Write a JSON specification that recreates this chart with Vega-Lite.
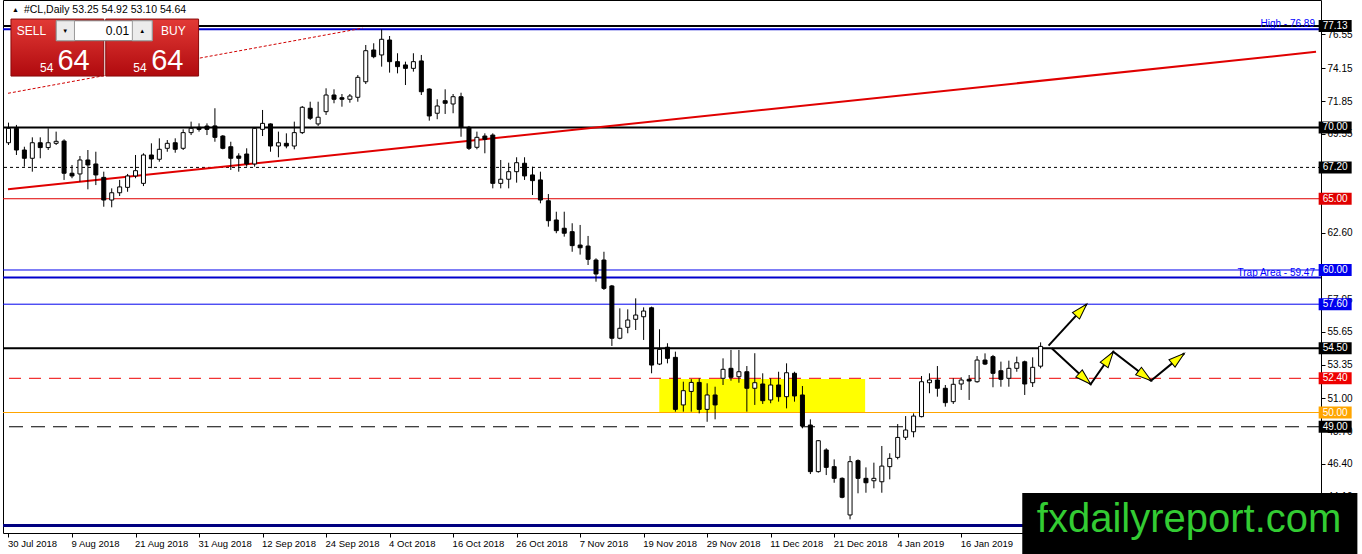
{
  "$schema": "https://vega.github.io/schema/vega-lite/v6.json",
  "width": 1318,
  "height": 533,
  "autosize": {"type": "none"},
  "padding": {"left": 3, "top": 0, "right": 41, "bottom": 21},
  "background": "#ffffff",
  "config": {
    "view": {"stroke": "#000000", "strokeWidth": 1},
    "font": "Liberation Sans",
    "axis": {"grid": false, "domain": false, "tickColor": "#000000", "tickSize": 4, "labelColor": "#000000", "labelFont": "Liberation Sans", "labelFontSize": 10, "zindex": 0}
  },
  "datasets": {
    "zone": [{"i0": 81.97, "i1": 107.9, "p0": 50.0, "p1": 52.35}],
    "levels": [
      {"level": 77.13, "kind": "top"},
      {"level": 76.89, "kind": "high", "note": "High - 76.89"},
      {"level": 70.0, "kind": "major"},
      {"level": 67.2, "kind": "pivot"},
      {"level": 65.0, "kind": "red"},
      {"level": 60.0, "kind": "blueThin"},
      {"level": 59.47, "kind": "trap", "note": "Trap Area - 59.47"},
      {"level": 57.6, "kind": "blueThin"},
      {"level": 54.5, "kind": "major"},
      {"level": 52.4, "kind": "redDash"},
      {"level": 50.0, "kind": "orange"},
      {"level": 49.0, "kind": "blackDash"},
      {"level": 42.07, "kind": "low"}
    ],
    "trend": [
      {"line": "trend", "i": -0.0625, "p": 65.66},
      {"line": "trend", "i": 164.69, "p": 75.31},
      {"line": "dotted", "i": -0.0625, "p": 72.4},
      {"line": "dotted", "i": 44.6, "p": 76.97}
    ],
    "candles": [
      {"i": 0, "o": 68.93, "h": 70.34, "l": 68.77, "c": 69.94},
      {"i": 1, "o": 69.94, "h": 70.18, "l": 68.07, "c": 68.42},
      {"i": 2, "o": 68.42, "h": 68.65, "l": 67.25, "c": 67.84},
      {"i": 3, "o": 67.84, "h": 69.31, "l": 66.9, "c": 68.93},
      {"i": 4, "o": 68.93, "h": 69.31, "l": 67.84, "c": 68.59},
      {"i": 5, "o": 68.59, "h": 69.94, "l": 68.42, "c": 68.93},
      {"i": 6, "o": 68.89, "h": 69.71, "l": 68.77, "c": 69.03},
      {"i": 7, "o": 69.05, "h": 69.17, "l": 66.32, "c": 66.79},
      {"i": 8, "o": 66.79, "h": 67.37, "l": 66.44, "c": 66.6},
      {"i": 9, "o": 66.74, "h": 68.0, "l": 66.2, "c": 67.72},
      {"i": 10, "o": 67.72, "h": 68.42, "l": 65.66, "c": 67.37},
      {"i": 11, "o": 67.44, "h": 68.3, "l": 65.96, "c": 66.67},
      {"i": 12, "o": 66.5, "h": 66.9, "l": 64.44, "c": 64.91},
      {"i": 13, "o": 64.91, "h": 65.73, "l": 64.4, "c": 65.42},
      {"i": 14, "o": 65.42, "h": 66.32, "l": 65.19, "c": 65.83},
      {"i": 15, "o": 65.8, "h": 66.74, "l": 65.49, "c": 66.6},
      {"i": 16, "o": 66.6, "h": 68.07, "l": 66.44, "c": 66.97},
      {"i": 17, "o": 66.08, "h": 68.19, "l": 65.89, "c": 68.07},
      {"i": 18, "o": 68.07, "h": 68.89, "l": 67.14, "c": 67.79},
      {"i": 19, "o": 67.77, "h": 69.24, "l": 67.6, "c": 68.47},
      {"i": 20, "o": 68.54, "h": 69.12, "l": 68.3, "c": 68.89},
      {"i": 21, "o": 68.93, "h": 69.24, "l": 68.23, "c": 68.47},
      {"i": 22, "o": 68.54, "h": 69.87, "l": 68.42, "c": 69.64},
      {"i": 23, "o": 69.64, "h": 70.41, "l": 69.47, "c": 69.94},
      {"i": 24, "o": 70.01, "h": 70.29, "l": 69.71, "c": 69.87},
      {"i": 25, "o": 70.1, "h": 70.29, "l": 69.47, "c": 69.87},
      {"i": 26, "o": 70.11, "h": 71.35, "l": 69.0, "c": 69.31},
      {"i": 27, "o": 69.4, "h": 69.47, "l": 68.47, "c": 68.54},
      {"i": 28, "o": 68.65, "h": 69.0, "l": 67.02, "c": 67.84},
      {"i": 29, "o": 68.0, "h": 68.19, "l": 66.9, "c": 67.84},
      {"i": 30, "o": 68.14, "h": 68.54, "l": 67.25, "c": 67.44},
      {"i": 31, "o": 67.44, "h": 70.01, "l": 67.25, "c": 69.94},
      {"i": 32, "o": 69.87, "h": 71.23, "l": 69.4, "c": 70.29},
      {"i": 33, "o": 70.25, "h": 70.29, "l": 68.3, "c": 68.7},
      {"i": 34, "o": 68.7, "h": 69.71, "l": 67.91, "c": 68.93},
      {"i": 35, "o": 68.89, "h": 69.59, "l": 68.54, "c": 68.7},
      {"i": 36, "o": 68.7, "h": 70.41, "l": 68.47, "c": 69.64},
      {"i": 37, "o": 69.64, "h": 71.51, "l": 69.54, "c": 71.42},
      {"i": 38, "o": 71.35, "h": 71.81, "l": 70.53, "c": 70.65},
      {"i": 39, "o": 70.25, "h": 71.81, "l": 70.11, "c": 70.72},
      {"i": 40, "o": 71.11, "h": 72.75, "l": 70.88, "c": 72.28},
      {"i": 41, "o": 72.28, "h": 72.68, "l": 71.7, "c": 71.98},
      {"i": 42, "o": 72.09, "h": 72.35, "l": 71.46, "c": 71.98},
      {"i": 43, "o": 71.98, "h": 72.35, "l": 71.74, "c": 72.21},
      {"i": 44, "o": 72.12, "h": 73.68, "l": 71.81, "c": 73.52},
      {"i": 45, "o": 73.21, "h": 75.79, "l": 73.05, "c": 75.39},
      {"i": 46, "o": 75.44, "h": 75.91, "l": 74.86, "c": 74.97},
      {"i": 47, "o": 75.09, "h": 76.89, "l": 74.27, "c": 76.19},
      {"i": 48, "o": 76.14, "h": 76.42, "l": 73.85, "c": 74.62},
      {"i": 49, "o": 74.62, "h": 75.21, "l": 73.8, "c": 74.27},
      {"i": 50, "o": 74.39, "h": 74.62, "l": 72.98, "c": 74.15},
      {"i": 51, "o": 74.15, "h": 75.21, "l": 73.92, "c": 74.62},
      {"i": 52, "o": 74.67, "h": 75.09, "l": 72.28, "c": 72.51},
      {"i": 53, "o": 72.7, "h": 72.75, "l": 70.48, "c": 70.81},
      {"i": 54, "o": 71.0, "h": 71.98, "l": 70.58, "c": 71.51},
      {"i": 55, "o": 71.88, "h": 72.68, "l": 70.95, "c": 71.7},
      {"i": 56, "o": 71.65, "h": 72.35, "l": 71.0, "c": 72.16},
      {"i": 57, "o": 72.16, "h": 72.44, "l": 69.35, "c": 70.01},
      {"i": 58, "o": 70.01, "h": 70.11, "l": 68.42, "c": 68.54},
      {"i": 59, "o": 68.61, "h": 69.71, "l": 68.47, "c": 69.31},
      {"i": 60, "o": 69.4, "h": 69.59, "l": 68.19, "c": 69.17},
      {"i": 61, "o": 69.47, "h": 69.59, "l": 65.73, "c": 66.08},
      {"i": 62, "o": 66.08, "h": 67.72, "l": 65.73, "c": 66.37},
      {"i": 63, "o": 66.37, "h": 67.53, "l": 65.73, "c": 66.9},
      {"i": 64, "o": 66.9, "h": 67.91, "l": 66.13, "c": 67.53},
      {"i": 65, "o": 67.49, "h": 67.91, "l": 66.32, "c": 66.6},
      {"i": 66, "o": 66.67, "h": 67.25, "l": 65.26, "c": 66.27},
      {"i": 67, "o": 66.32, "h": 66.9, "l": 64.68, "c": 64.91},
      {"i": 68, "o": 64.86, "h": 65.33, "l": 63.04, "c": 63.46},
      {"i": 69, "o": 63.51, "h": 64.09, "l": 62.58, "c": 62.76},
      {"i": 70, "o": 62.93, "h": 64.09, "l": 62.34, "c": 62.58},
      {"i": 71, "o": 62.69, "h": 63.28, "l": 61.28, "c": 61.71},
      {"i": 72, "o": 61.75, "h": 63.16, "l": 61.08, "c": 61.56},
      {"i": 73, "o": 61.68, "h": 62.39, "l": 60.35, "c": 60.75},
      {"i": 74, "o": 60.7, "h": 60.82, "l": 59.18, "c": 59.72},
      {"i": 75, "o": 60.7, "h": 61.28, "l": 58.6, "c": 58.71},
      {"i": 76, "o": 58.88, "h": 58.95, "l": 54.67, "c": 55.21},
      {"i": 77, "o": 55.21, "h": 57.31, "l": 55.14, "c": 55.91},
      {"i": 78, "o": 55.98, "h": 57.24, "l": 55.56, "c": 56.49},
      {"i": 79, "o": 56.54, "h": 58.01, "l": 55.79, "c": 56.84},
      {"i": 80, "o": 56.72, "h": 57.38, "l": 55.09, "c": 57.12},
      {"i": 81, "o": 57.35, "h": 57.43, "l": 52.75, "c": 53.33},
      {"i": 82, "o": 53.4, "h": 55.84, "l": 53.33, "c": 54.43},
      {"i": 83, "o": 54.58, "h": 54.86, "l": 53.45, "c": 53.8},
      {"i": 84, "o": 53.87, "h": 54.27, "l": 50.06, "c": 50.22},
      {"i": 85, "o": 50.53, "h": 52.16, "l": 50.06, "c": 51.53},
      {"i": 86, "o": 51.48, "h": 52.34, "l": 50.06, "c": 52.11},
      {"i": 87, "o": 52.11, "h": 52.4, "l": 49.94, "c": 50.22},
      {"i": 88, "o": 50.22, "h": 52.05, "l": 49.35, "c": 51.23},
      {"i": 89, "o": 51.23, "h": 51.81, "l": 49.52, "c": 50.53},
      {"i": 90, "o": 52.4, "h": 53.8, "l": 51.93, "c": 53.03},
      {"i": 91, "o": 53.1, "h": 54.39, "l": 52.23, "c": 52.47},
      {"i": 92, "o": 52.51, "h": 54.39, "l": 52.09, "c": 52.86},
      {"i": 93, "o": 52.86, "h": 53.26, "l": 50.06, "c": 51.7},
      {"i": 94, "o": 51.7, "h": 54.16, "l": 50.53, "c": 52.09},
      {"i": 95, "o": 52.0, "h": 52.75, "l": 50.6, "c": 50.83},
      {"i": 96, "o": 50.88, "h": 52.4, "l": 50.65, "c": 51.93},
      {"i": 97, "o": 51.93, "h": 52.86, "l": 50.76, "c": 51.11},
      {"i": 98, "o": 51.11, "h": 53.45, "l": 50.29, "c": 52.79},
      {"i": 99, "o": 52.75, "h": 52.86, "l": 50.76, "c": 51.16},
      {"i": 100, "o": 51.23, "h": 51.86, "l": 48.89, "c": 49.05},
      {"i": 101, "o": 49.12, "h": 49.52, "l": 45.68, "c": 45.85},
      {"i": 102, "o": 45.85, "h": 48.07, "l": 45.78, "c": 48.02},
      {"i": 103, "o": 47.37, "h": 47.49, "l": 45.61, "c": 46.15},
      {"i": 104, "o": 46.2, "h": 46.71, "l": 45.07, "c": 45.38},
      {"i": 105, "o": 45.38, "h": 45.45, "l": 43.98, "c": 44.05},
      {"i": 106, "o": 42.81, "h": 46.95, "l": 42.5, "c": 46.55},
      {"i": 107, "o": 46.62, "h": 46.71, "l": 44.33, "c": 45.38},
      {"i": 108, "o": 45.38, "h": 46.15, "l": 44.37, "c": 45.07},
      {"i": 109, "o": 45.21, "h": 46.48, "l": 44.68, "c": 45.38},
      {"i": 110, "o": 45.14, "h": 47.65, "l": 44.37, "c": 46.24},
      {"i": 111, "o": 46.2, "h": 47.14, "l": 45.31, "c": 46.78},
      {"i": 112, "o": 46.85, "h": 49.19, "l": 46.71, "c": 48.25},
      {"i": 113, "o": 48.26, "h": 49.75, "l": 48.07, "c": 48.77},
      {"i": 114, "o": 48.65, "h": 49.94, "l": 48.26, "c": 49.75},
      {"i": 115, "o": 49.71, "h": 52.56, "l": 49.66, "c": 52.16},
      {"i": 116, "o": 52.09, "h": 52.75, "l": 51.35, "c": 52.28},
      {"i": 117, "o": 52.28, "h": 53.26, "l": 51.11, "c": 51.7},
      {"i": 118, "o": 51.7, "h": 51.93, "l": 50.41, "c": 50.69},
      {"i": 119, "o": 50.76, "h": 52.4, "l": 50.6, "c": 51.98},
      {"i": 120, "o": 52.0, "h": 52.47, "l": 51.58, "c": 52.28},
      {"i": 121, "o": 52.33, "h": 52.63, "l": 50.88, "c": 52.21},
      {"i": 122, "o": 52.16, "h": 53.96, "l": 52.09, "c": 53.68},
      {"i": 123, "o": 53.68, "h": 54.15, "l": 53.33, "c": 53.4},
      {"i": 124, "o": 53.92, "h": 54.04, "l": 51.77, "c": 52.75},
      {"i": 125, "o": 52.93, "h": 53.57, "l": 51.81, "c": 52.33},
      {"i": 126, "o": 52.4, "h": 53.64, "l": 51.81, "c": 53.1},
      {"i": 127, "o": 53.1, "h": 53.92, "l": 52.86, "c": 53.49},
      {"i": 128, "o": 53.56, "h": 53.64, "l": 51.23, "c": 52.0},
      {"i": 129, "o": 52.09, "h": 53.87, "l": 51.79, "c": 53.17},
      {"i": 130, "o": 53.25, "h": 54.92, "l": 53.1, "c": 54.64}
    ],
    "arrows": [
      {"path": "up", "step": 0, "i": 131.0, "p": 54.69},
      {"path": "up", "step": 1, "i": 135.8, "p": 57.61},
      {"path": "zig", "step": 0, "i": 131.4, "p": 54.51},
      {"path": "zig", "step": 1, "i": 136.3, "p": 51.98},
      {"path": "zig", "step": 2, "i": 139.15, "p": 54.27},
      {"path": "zig", "step": 3, "i": 143.9, "p": 52.23},
      {"path": "zig", "step": 4, "i": 148.1, "p": 54.15}
    ],
    "heads": [
      {"i": 135.14, "p": 57.2, "angle": 42.6},
      {"i": 135.58, "p": 52.36, "angle": 132.7},
      {"i": 138.58, "p": 53.8, "angle": 34.8},
      {"i": 143.14, "p": 52.57, "angle": 127.1},
      {"i": 147.33, "p": 53.8, "angle": 50.6}
    ]
  },
  "layer": [
    {
      "data": {"name": "zone"},
      "mark": {"type": "rect", "color": "#ffff00"},
      "encoding": {
        "x": {
          "field": "i0", "type": "quantitative", "title": null,
          "scale": {"domain": [-0.0625, 164.6875], "nice": false, "zero": false},
          "axis": {
            "orient": "bottom", "title": null,
            "values": [0, 8, 16, 24, 32, 40, 48, 56, 64, 72, 80, 88, 96, 104, 112, 120],
            "labelExpr": "['30 Jul 2018','9 Aug 2018','21 Aug 2018','31 Aug 2018','12 Sep 2018','24 Sep 2018','4 Oct 2018','16 Oct 2018','26 Oct 2018','7 Nov 2018','19 Nov 2018','29 Nov 2018','11 Dec 2018','21 Dec 2018','4 Jan 2019','16 Jan 2019'][datum.value / 8]",
            "labelAlign": "left", "labelPadding": 1, "labelFontSize": 9.5, "labelOffset": -1, "labelFlush": false, "labelOverlap": false
          }
        },
        "x2": {"field": "i1"},
        "y": {
          "field": "p0", "type": "quantitative", "title": null,
          "scale": {"domain": [41.544, 78.947], "nice": false, "zero": false},
          "axis": {
            "orient": "right", "title": null,
            "values": [44.1, 46.4, 48.7, 51.0, 53.35, 55.65, 57.95, 62.6, 69.55, 71.85, 74.15, 76.55],
            "format": ".2f", "labelPadding": 2, "labelFlush": false, "labelOverlap": false, "labelBaseline": "middle"
          }
        },
        "y2": {"field": "p1"}
      }
    },
    {
      "data": {"name": "levels"},
      "transform": [{"filter": "indexof(['top','high','major','trap'], datum.kind) >= 0"}],
      "mark": {"type": "rule", "strokeWidth": 2},
      "encoding": {
        "y": {"field": "level", "type": "quantitative", "title": null},
        "color": {
          "field": "kind", "type": "nominal", "legend": null,
          "scale": {
            "domain": ["top", "high", "major", "pivot", "red", "blueThin", "trap", "redDash", "orange", "blackDash", "low"],
            "range": ["#000000", "#0000cc", "#000000", "#000000", "#e00000", "#0000ee", "#0000cc", "#ee0000", "#ffa500", "#000000", "#000080"]
          }
        },
        "strokeDash": {
          "field": "kind", "type": "nominal", "legend": null,
          "scale": {
            "domain": ["top", "high", "major", "pivot", "red", "blueThin", "trap", "redDash", "orange", "blackDash", "low"],
            "range": [[1, 0], [1, 0], [1, 0], [3, 3], [1, 0], [1, 0], [1, 0], [12, 8], [1, 0], [14, 8], [1, 0]]
          }
        }
      }
    },
    {
      "data": {"name": "levels"},
      "transform": [{"filter": "indexof(['pivot','red','blueThin','redDash','orange','blackDash'], datum.kind) >= 0"}],
      "mark": {"type": "rule", "strokeWidth": 1},
      "encoding": {
        "y": {"field": "level", "type": "quantitative", "title": null},
        "color": {"field": "kind", "type": "nominal", "legend": null},
        "strokeDash": {"field": "kind", "type": "nominal", "legend": null}
      }
    },
    {
      "data": {"name": "levels"},
      "transform": [{"filter": "datum.kind == 'low'"}],
      "mark": {"type": "rule", "strokeWidth": 3},
      "encoding": {
        "y": {"field": "level", "type": "quantitative", "title": null},
        "color": {"field": "kind", "type": "nominal", "legend": null}
      }
    },
    {
      "data": {"name": "trend"},
      "transform": [{"filter": "datum.line == 'trend'"}],
      "mark": {"type": "line", "color": "#e00000", "strokeWidth": 2, "clip": true},
      "encoding": {
        "x": {"field": "i", "type": "quantitative", "title": null},
        "y": {"field": "p", "type": "quantitative", "title": null}
      }
    },
    {
      "data": {"name": "trend"},
      "transform": [{"filter": "datum.line == 'dotted'"}],
      "mark": {"type": "line", "color": "#d00000", "strokeWidth": 1, "strokeDash": [3, 2], "clip": true},
      "encoding": {
        "x": {"field": "i", "type": "quantitative", "title": null},
        "y": {"field": "p", "type": "quantitative", "title": null}
      }
    },
    {
      "data": {"name": "candles"},
      "mark": {"type": "rule", "color": "#000000", "strokeWidth": 1, "clip": true},
      "encoding": {
        "x": {"field": "i", "type": "quantitative", "title": null},
        "y": {"field": "l", "type": "quantitative", "title": null},
        "y2": {"field": "h"}
      }
    },
    {
      "data": {"name": "candles"},
      "mark": {"type": "bar", "width": 4, "stroke": "#000000", "strokeWidth": 1, "clip": true},
      "encoding": {
        "x": {"field": "i", "type": "quantitative", "title": null},
        "y": {"field": "o", "type": "quantitative", "title": null},
        "y2": {"field": "c"},
        "fill": {"condition": {"test": "datum.c >= datum.o", "value": "#ffffff"}, "value": "#000000"}
      }
    },
    {
      "data": {"name": "arrows"},
      "mark": {"type": "line", "color": "#000000", "strokeWidth": 2},
      "encoding": {
        "x": {"field": "i", "type": "quantitative", "title": null},
        "y": {"field": "p", "type": "quantitative", "title": null},
        "detail": {"field": "path"},
        "order": {"field": "step"}
      }
    },
    {
      "data": {"name": "heads"},
      "mark": {"type": "point", "shape": "M0,-1L0.6,1L-0.6,1Z", "size": 256, "filled": true, "fill": "#ffff00", "stroke": "#000000", "strokeWidth": 1, "opacity": 1},
      "encoding": {
        "x": {"field": "i", "type": "quantitative", "title": null},
        "y": {"field": "p", "type": "quantitative", "title": null},
        "angle": {"field": "angle", "type": "quantitative", "scale": null}
      }
    },
    {
      "data": {"name": "levels"},
      "transform": [{"filter": "datum.note"}],
      "mark": {"type": "text", "color": "#0000ff", "fontSize": 10, "align": "right", "baseline": "alphabetic", "dy": -2},
      "encoding": {
        "x": {"datum": 164.56},
        "y": {"field": "level", "type": "quantitative", "title": null},
        "text": {"field": "note"}
      }
    },
    {
      "data": {"name": "levels"},
      "transform": [{"filter": "indexof(['high','trap','low'], datum.kind) < 0"}],
      "mark": {"type": "tick", "orient": "horizontal", "size": 33, "thickness": 12, "opacity": 1},
      "encoding": {
        "x": {"datum": 167.1},
        "y": {"field": "level", "type": "quantitative", "title": null},
        "color": {"field": "kind", "type": "nominal", "legend": null}
      }
    },
    {
      "data": {"name": "levels"},
      "transform": [{"filter": "indexof(['high','trap','low'], datum.kind) < 0"}],
      "mark": {"type": "text", "color": "#ffffff", "fontSize": 10, "align": "center", "baseline": "middle"},
      "encoding": {
        "x": {"datum": 167.1},
        "y": {"field": "level", "type": "quantitative", "title": null},
        "text": {"field": "level", "type": "quantitative", "format": ".2f"}
      }
    },
    {
      "data": {"values": [{}]},
      "mark": {"type": "text", "text": "▲", "fontSize": 7, "color": "#000000", "align": "left", "baseline": "middle"},
      "encoding": {"x": {"datum": 0.44}, "y": {"datum": 78.25}}
    },
    {
      "data": {"values": [{}]},
      "mark": {"type": "text", "text": "#CL,Daily  53.25 54.92 53.10 54.64", "fontSize": 10.5, "color": "#000000", "align": "left", "baseline": "middle"},
      "encoding": {"x": {"datum": 1.94}, "y": {"datum": 78.25}}
    },
    {
      "data": {"values": [{}]},
      "mark": {"type": "rect", "stroke": "#8a0a0a", "strokeWidth": 1, "fill": {"gradient": "linear", "x1": 0, "y1": 0, "x2": 0, "y2": 1, "stops": [{"offset": 0, "color": "#e23a36"}, {"offset": 1, "color": "#b00a0e"}]}},
      "encoding": {"x": {"datum": 0.31}, "x2": {"datum": 12.0}, "y": {"datum": 77.61}, "y2": {"datum": 73.61}}
    },
    {
      "data": {"values": [{}]},
      "mark": {"type": "rect", "stroke": "#8a0a0a", "strokeWidth": 1, "fill": {"gradient": "linear", "x1": 0, "y1": 0, "x2": 0, "y2": 1, "stops": [{"offset": 0, "color": "#e23a36"}, {"offset": 1, "color": "#b00a0e"}]}},
      "encoding": {"x": {"datum": 12.25}, "x2": {"datum": 23.94}, "y": {"datum": 77.61}, "y2": {"datum": 73.61}}
    },
    {
      "data": {"values": [{}]},
      "mark": {"type": "rect", "fill": "#ffffff", "stroke": "#7a7a7a", "strokeWidth": 1},
      "encoding": {"x": {"datum": 6.02}, "x2": {"datum": 18.1}, "y": {"datum": 77.49}, "y2": {"datum": 76.09}}
    },
    {
      "data": {"values": [{}]},
      "mark": {"type": "rect", "fill": "#ececec", "stroke": "#9a9a9a", "strokeWidth": 1},
      "encoding": {"x": {"datum": 6.02}, "x2": {"datum": 8.31}, "y": {"datum": 77.49}, "y2": {"datum": 76.09}}
    },
    {
      "data": {"values": [{}]},
      "mark": {"type": "rect", "fill": "#ececec", "stroke": "#9a9a9a", "strokeWidth": 1},
      "encoding": {"x": {"datum": 15.6}, "x2": {"datum": 18.1}, "y": {"datum": 77.49}, "y2": {"datum": 76.09}}
    },
    {
      "data": {"values": [{}]},
      "mark": {"type": "text", "text": "SELL", "fontSize": 12, "color": "#ffffff", "align": "center", "baseline": "middle"},
      "encoding": {"x": {"datum": 2.9}, "y": {"datum": 76.77}}
    },
    {
      "data": {"values": [{}]},
      "mark": {"type": "text", "text": "BUY", "fontSize": 12, "color": "#ffffff", "align": "center", "baseline": "middle"},
      "encoding": {"x": {"datum": 20.77}, "y": {"datum": 76.77}}
    },
    {
      "data": {"values": [{}]},
      "mark": {"type": "text", "text": "0.01", "fontSize": 12, "color": "#000000", "align": "right", "baseline": "middle"},
      "encoding": {"x": {"datum": 15.19}, "y": {"datum": 76.77}}
    },
    {
      "data": {"values": [{}]},
      "mark": {"type": "text", "text": "▼", "fontSize": 6, "color": "#000000", "align": "center", "baseline": "middle"},
      "encoding": {"x": {"datum": 7.15}, "y": {"datum": 76.79}}
    },
    {
      "data": {"values": [{}]},
      "mark": {"type": "text", "text": "▲", "fontSize": 6, "color": "#000000", "align": "center", "baseline": "middle"},
      "encoding": {"x": {"datum": 16.85}, "y": {"datum": 76.79}}
    },
    {
      "data": {"values": [{}]},
      "mark": {"type": "text", "text": "54", "fontSize": 12, "color": "#ffffff", "align": "center", "baseline": "alphabetic"},
      "encoding": {"x": {"datum": 4.81}, "y": {"datum": 73.89}}
    },
    {
      "data": {"values": [{}]},
      "mark": {"type": "text", "text": "64", "fontSize": 29, "color": "#ffffff", "align": "center", "baseline": "alphabetic"},
      "encoding": {"x": {"datum": 8.19}, "y": {"datum": 74.0}}
    },
    {
      "data": {"values": [{}]},
      "mark": {"type": "text", "text": "54", "fontSize": 12, "color": "#ffffff", "align": "center", "baseline": "alphabetic"},
      "encoding": {"x": {"datum": 16.56}, "y": {"datum": 73.89}}
    },
    {
      "data": {"values": [{}]},
      "mark": {"type": "text", "text": "64", "fontSize": 29, "color": "#ffffff", "align": "center", "baseline": "alphabetic"},
      "encoding": {"x": {"datum": 20.0}, "y": {"datum": 74.0}}
    },
    {
      "data": {"values": [{}]},
      "mark": {"type": "rect", "fill": "#000000"},
      "encoding": {"x": {"datum": 127.69}, "x2": {"datum": 169.9}, "y": {"datum": 44.35}, "y2": {"datum": 40.0}}
    },
    {
      "data": {"values": [{}]},
      "mark": {"type": "text", "text": "fxdailyreport.com", "fontSize": 40, "font": "Liberation Sans", "color": "#33cc33", "align": "center", "baseline": "alphabetic"},
      "encoding": {"x": {"datum": 148.7}, "y": {"datum": 41.58}}
    }
  ]
}
